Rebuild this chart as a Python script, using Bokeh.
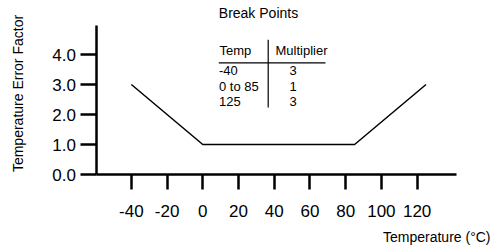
import math
from bokeh.plotting import figure
from bokeh.models import Range1d, FixedTicker, Label, LinearAxis
from bokeh.embed import file_html
from bokeh.resources import INLINE

# ---- data ----
temps = [-40, 0, 85, 125]
factors = [3, 1, 1, 3]
x_ticks = [-40, -20, 0, 20, 40, 60, 80, 100, 120]
y_ticks = [0, 1, 2, 3, 4]
y_tick_labels = ["0.0", "1.0", "2.0", "3.0", "4.0"]
table_title = "Break Points"
table_headers = ["Temp", "Multiplier"]
table_temp = ["-40", "0 to 85", "125"]
table_mult = ["3", "1", "3"]
x_label = "Temperature (°C)"
y_label = "Temperature Error Factor"

FONT = "Liberation Sans"

# ---- layout: the frame covers the whole canvas (pixels -> data units) ----
W, H = 491, 245
PX_X0 = 202.3      # pixel of x = 0
PX_PER_X = 1.786   # pixels per degree
PX_Y0 = 174.0      # pixel of y = 0
PX_PER_Y = 30.0    # pixels per unit
BASE_FIX = 5.0     # label anchor correction (px)


def dx(px):
    return (px - PX_X0) / PX_PER_X


def dy(py):
    return (PX_Y0 - py) / PX_PER_Y


def ty(baseline_px):
    return dy(baseline_px - BASE_FIX)


p = figure(width=W, height=H, output_backend="svg", toolbar_location=None,
           x_range=Range1d(dx(0), dx(W)), y_range=Range1d(dy(H), dy(0)),
           x_axis_type=None, y_axis_type=None,
           min_border=0, min_border_left=0, min_border_right=0,
           min_border_top=0, min_border_bottom=0)
p.outline_line_color = None
p.background_fill_color = "white"
p.border_fill_color = "white"

p.line(temps, factors, line_color="black", line_width=1.5)

# axes crossing at fixed locations
xax = LinearAxis(fixed_location=0, ticker=FixedTicker(ticks=x_ticks),
                 bounds=(dx(96), dx(456)))
xax.major_label_overrides = {t: str(t) for t in x_ticks}
xax.major_tick_out = 15
xax.major_label_standoff = 15
yax = LinearAxis(fixed_location=dx(95.5), ticker=FixedTicker(ticks=y_ticks),
                 bounds=(0, dy(25)))
yax.major_label_overrides = {t: s for t, s in zip(y_ticks, y_tick_labels)}
yax.major_tick_out = 16
yax.major_label_standoff = 4

for ax in (xax, yax):
    ax.axis_line_color = "black"
    ax.axis_line_width = 2.5
    ax.major_tick_line_color = "black"
    ax.major_tick_line_width = 2.5
    ax.major_tick_in = 0
    ax.minor_tick_out = 0
    ax.minor_tick_in = 0
    ax.major_label_text_font = FONT
    ax.major_label_text_font_size = "17px"
    ax.major_label_text_color = "black"

p.add_layout(xax, "below")
p.add_layout(yax, "left")

# axis titles
p.add_layout(Label(x=dx(490), y=ty(241.5), text=x_label, text_align="right",
                   text_baseline="alphabetic", text_font=FONT,
                   text_font_size="14px", text_color="black"))
p.add_layout(Label(x=dx(17), y=dy(93), text=y_label, text_align="center",
                   text_baseline="middle", angle=math.pi / 2, text_font=FONT,
                   text_font_size="14px", text_color="black"))

# break-point table
p.add_layout(Label(x=dx(218.3), y=ty(17.3), text=table_title, text_align="left",
                   text_baseline="alphabetic", text_font=FONT,
                   text_font_size="14px", text_color="black"))
p.add_layout(Label(x=dx(219), y=ty(55), text=table_headers[0], text_align="left",
                   text_baseline="alphabetic", text_font=FONT,
                   text_font_size="13px", text_color="black"))
p.add_layout(Label(x=dx(275), y=ty(55), text=table_headers[1], text_align="left",
                   text_baseline="alphabetic", text_font=FONT,
                   text_font_size="13px", text_color="black"))
row_base = [75, 90.7, 106.4]
for t, m, b in zip(table_temp, table_mult, row_base):
    p.add_layout(Label(x=dx(218.5), y=ty(b), text=t, text_align="left",
                       text_baseline="alphabetic", text_font=FONT,
                       text_font_size="13px", text_color="black"))
    p.add_layout(Label(x=dx(292.5), y=ty(b), text=m, text_align="center",
                       text_baseline="alphabetic", text_font=FONT,
                       text_font_size="13px", text_color="black"))

p.segment(x0=[dx(218.3), dx(267.7)], y0=[dy(62.3), dy(39.3)],
          x1=[dx(325), dx(267.7)], y1=[dy(62.3), dy(107)],
          line_color="black", line_width=1.2)

open("out.html", "w").write(file_html(p, INLINE))
